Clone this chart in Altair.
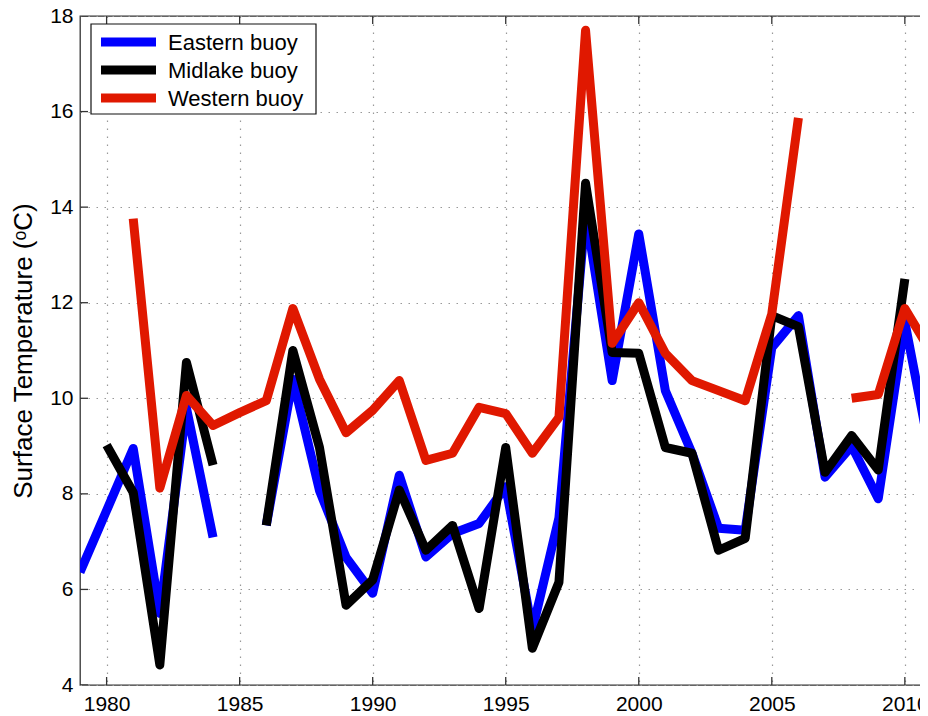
import altair as alt
import pandas as pd

years = list(range(1979, 2012))

eastern = [6.36, 7.65, 8.95, 5.5, 9.8, 7.09, None, 7.34, 10.4, 8.07, 6.67, 5.92,
           8.39, 6.68, 7.17, 7.38, 8.15, 5.15, 7.5, 13.9, 10.37, 13.44, 10.16,
           8.85, 7.28, 7.24, 11.06, 11.73, 8.35, 9.0, 7.9, 11.6, 8.7]
midlake = [None, 9.02, 8.03, 4.42, 10.75, 8.6, None, 7.34, 11.0, 8.97, 5.67, 6.2,
           8.08, 6.82, 7.34, 5.6, 8.97, 4.77, 6.15, 14.5, 10.96, 10.94, 8.97,
           8.85, 6.82, 7.07, 11.73, 11.5, 8.45, 9.22, 8.5, 12.5, None]
western = [None, None, 13.76, 8.12, 10.06, 9.43, 9.7, 9.95, 11.88, 10.4, 9.28, 9.75,
           10.37, 8.7, 8.85, 9.81, 9.68, 8.85, 9.6, 17.7, 11.15, 12.0, 10.94,
           10.37, 10.16, 9.95, 11.77, 15.87, None, 10.0, 10.08, 11.88, 10.95]

names = ["Eastern buoy", "Midlake buoy", "Western buoy"]
colors = ["#0000ff", "#000000", "#e01800"]
series_values = [eastern, midlake, western]

x_ticks = [1980, 1985, 1990, 1995, 2000, 2005, 2010]
y_ticks = [4, 6, 8, 10, 12, 14, 16, 18]

FONT = "Liberation Sans"
W, H = 848, 669
X_END = 2010.87  # right edge of the visible plot


def to_frame(name, values):
    rows = []
    seg = 0
    for yr, v in zip(years, values):
        if v is None:
            seg += 1
            continue
        rows.append({"year": yr, "temp": v, "series": name, "seg": seg})
    return pd.DataFrame(rows)


xscale = alt.Scale(domain=[1979, X_END], nice=False, zero=False)
yscale = alt.Scale(domain=[4, 18], nice=False, zero=False)

xaxis = alt.Axis(values=x_ticks, format="d", title=None, ticks=False,
                 domain=False, labelFontSize=21, labelFont=FONT,
                 labelColor="#000", labelPadding=8, grid=True,
                 gridDash=[1.5, 6.5], gridColor="#999", gridWidth=1.2)
yaxis = alt.Axis(values=y_ticks, title="Surface Temperature (ᵒC)",
                 titleFontSize=26, titleFont=FONT, titleFontWeight="normal",
                 titleColor="#000", titlePadding=13, ticks=False,
                 domain=False, labelFontSize=21, labelFont=FONT,
                 labelColor="#000", labelPadding=7, grid=True,
                 gridDash=[1.5, 6.5], gridColor="#999", gridWidth=1.2)

layers = []
for i, (name, vals) in enumerate(zip(names, series_values)):
    df = to_frame(name, vals)
    layers.append(
        alt.Chart(df).mark_line(color=colors[i], strokeWidth=9, strokeJoin="round",
                                clip=True).encode(
            x=alt.X("year:Q", scale=xscale, axis=xaxis),
            y=alt.Y("temp:Q", scale=yscale, axis=yaxis),
            detail="seg:N",
        )
    )

# inward tick marks (MATLAB style)
xt = pd.DataFrame({"year": x_ticks})
yt = pd.DataFrame({"temp": y_ticks})
tick_style = dict(color="#333", strokeWidth=1.3, clip=True)
layers.append(alt.Chart(xt).mark_rule(**tick_style).encode(
    x=alt.X("year:Q", scale=xscale, axis=xaxis), y=alt.value(0), y2=alt.value(8)))
layers.append(alt.Chart(xt).mark_rule(**tick_style).encode(
    x=alt.X("year:Q", scale=xscale, axis=xaxis), y=alt.value(H - 8), y2=alt.value(H)))
layers.append(alt.Chart(yt).mark_rule(**tick_style).encode(
    y=alt.Y("temp:Q", scale=yscale, axis=yaxis), x=alt.value(0), x2=alt.value(8)))

# legend box
one = pd.DataFrame({"a": [0]})
layers.append(alt.Chart(one).mark_rect(fill="white", stroke="#111", strokeWidth=1.2).encode(
    x=alt.value(11), x2=alt.value(236), y=alt.value(8), y2=alt.value(98)))
for i, name in enumerate(names):
    yy = 26 + 28 * i
    layers.append(alt.Chart(one).mark_rule(color=colors[i], strokeWidth=9).encode(
        x=alt.value(21), x2=alt.value(76), y=alt.value(yy)))
    layers.append(alt.Chart(pd.DataFrame({"label": [name]})).mark_text(
        align="left", baseline="middle", fontSize=22, font=FONT, color="#000").encode(
        x=alt.value(88), y=alt.value(yy + 1), text="label:N"))

chart = alt.layer(*layers).properties(
    width=W, height=H,
    autosize=alt.AutoSizeParams(type="none"),
    padding={"left": 72, "top": 8, "right": -8, "bottom": 29},
    background="white",
).configure_view(stroke="#333", strokeWidth=1.3)

chart.save("out.html", embed_options={"renderer": "svg", "actions": False})
